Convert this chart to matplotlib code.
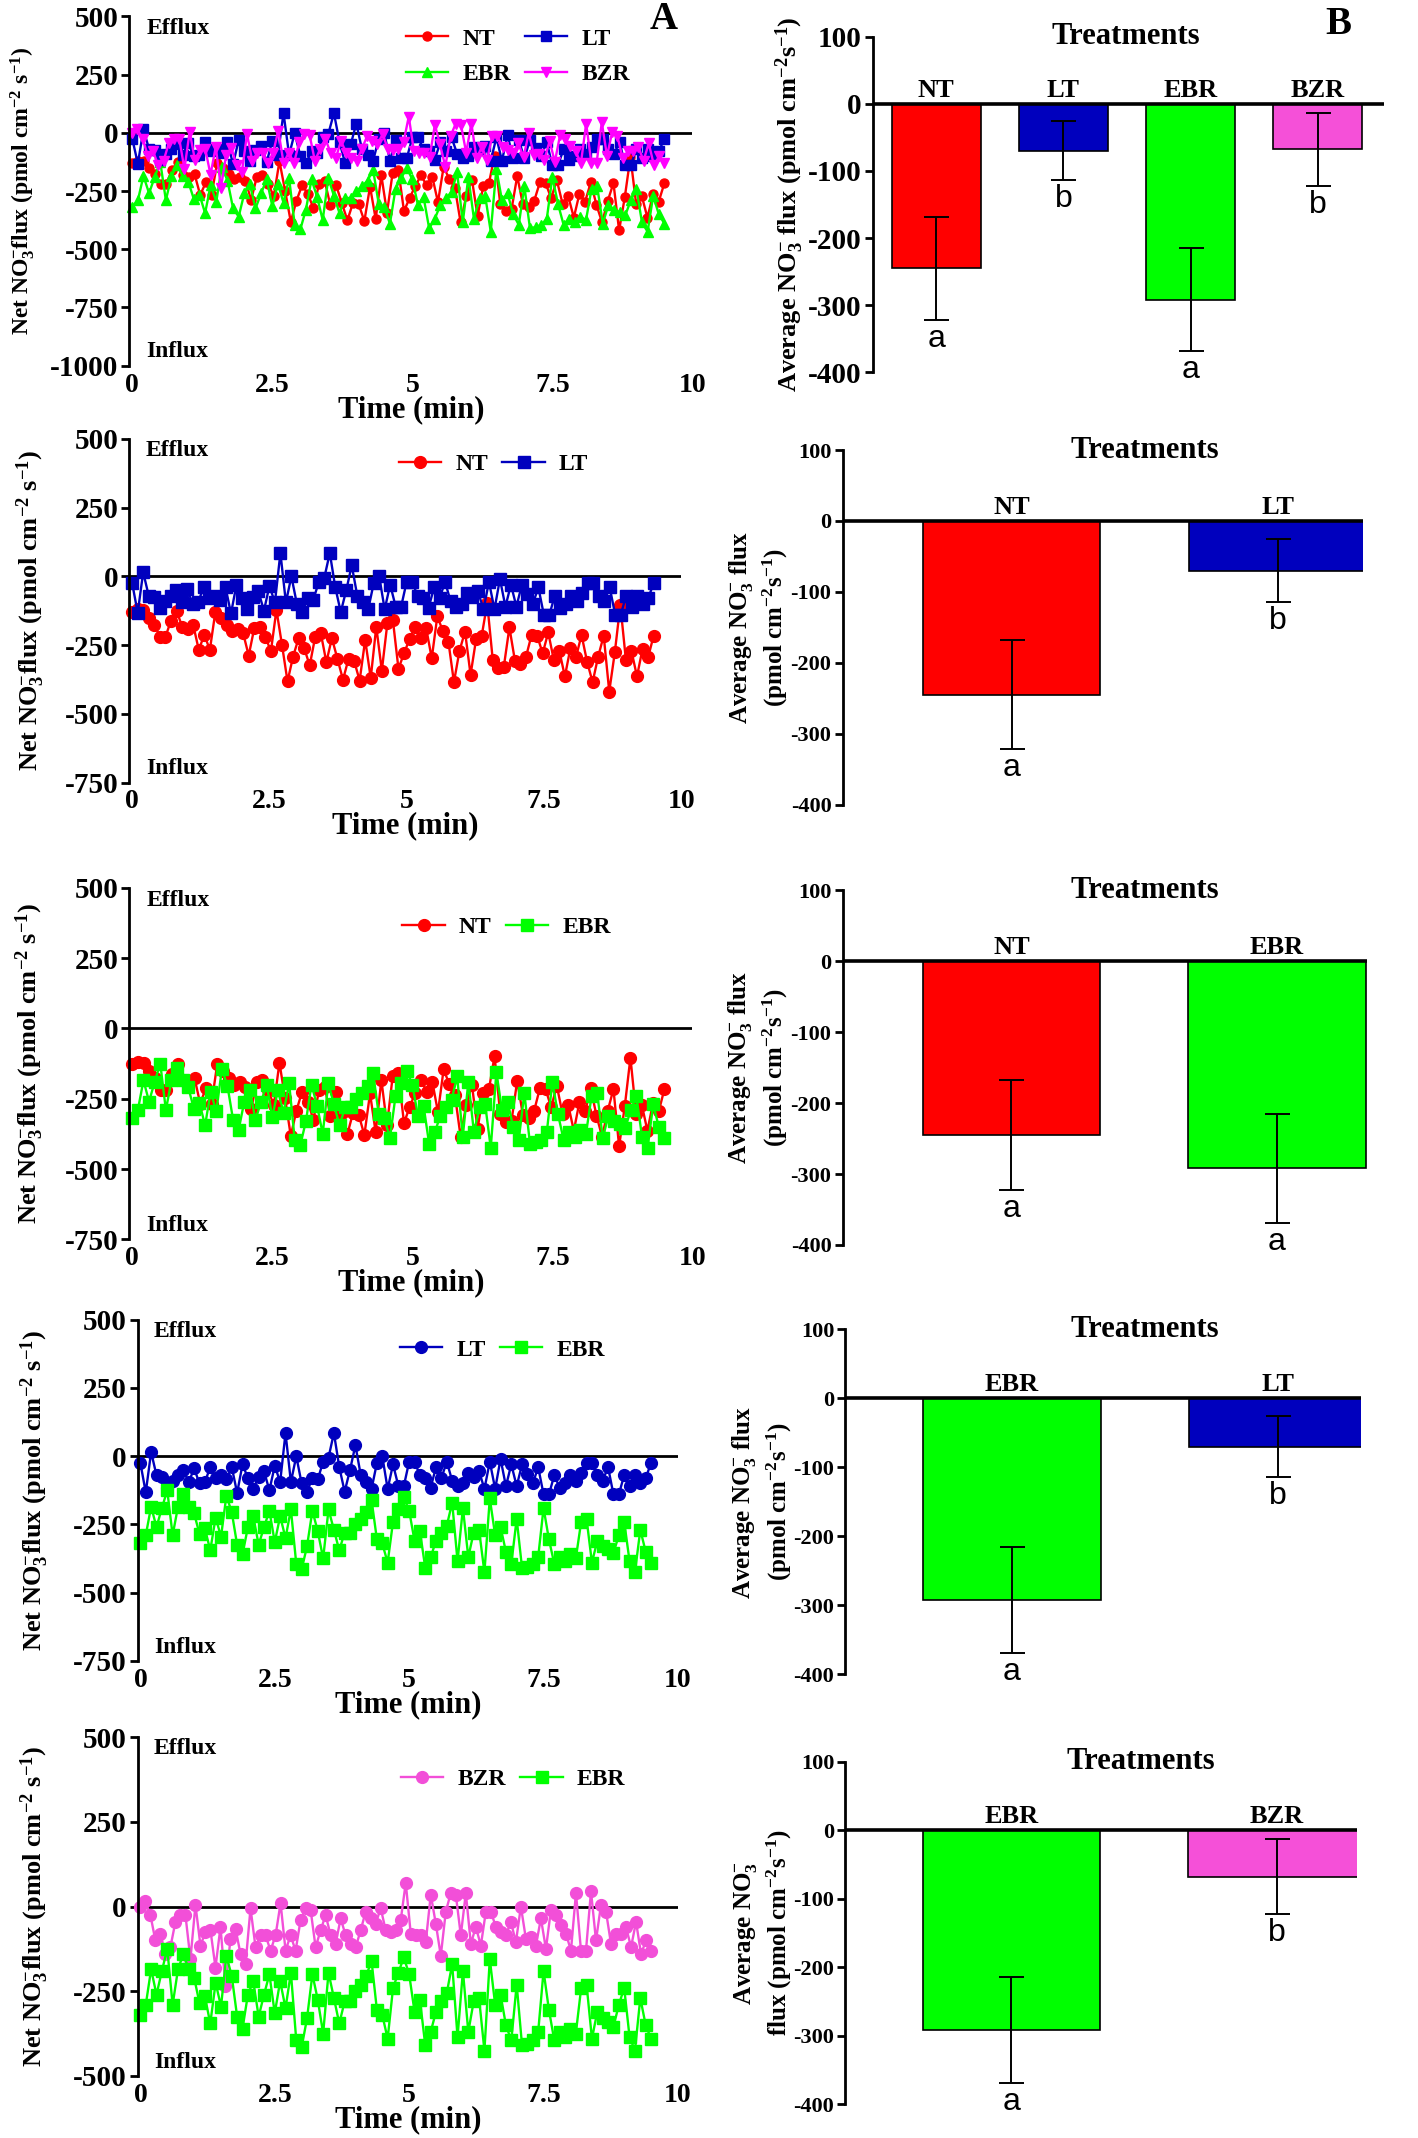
import numpy as np
import matplotlib
matplotlib.use('Agg')
import matplotlib.pyplot as plt

plt.rcParams['font.family'] = ['Liberation Serif', 'DejaVu Serif']
plt.rcParams['font.weight'] = 'bold'
plt.rcParams['axes.labelweight'] = 'bold'
plt.rcParams['axes.unicode_minus'] = False
plt.rcParams['mathtext.fontset'] = 'custom'
plt.rcParams['mathtext.rm'] = 'Liberation Serif:bold'
plt.rcParams['mathtext.it'] = 'Liberation Serif:bold'
plt.rcParams['mathtext.bf'] = 'Liberation Serif:bold'
plt.rcParams['mathtext.default'] = 'rm'

# net NO3- flux, pmol cm-2 s-1, sampled over ~9.5 min
time_end = 9.5
nt_flux = [-128, -120, -122, -150, -177, -219, -219, -161, -125, -183,
           -191, -177, -267, -213, -267, -128, -150, -177, -200, -190,
           -207, -288, -189, -183, -219, -273, -122, -249, -382, -292,
           -225, -261, -324, -219, -207, -312, -225, -300, -376, -300,
           -307, -379, -231, -370, -183, -343, -171, -160, -336, -280,
           -228, -183, -225, -189, -298, -146, -198, -237, -385, -271,
           -201, -358, -228, -217, -98, -304, -334, -328, -186, -307,
           -319, -292, -213, -216, -280, -204, -304, -271, -364, -261,
           -295, -213, -310, -385, -292, -216, -419, -277, -104, -304,
           -271, -364, -264, -295, -216]
lt_flux = [-25, -133, 15, -70, -75, -115, -90, -70, -50, -95,
           -45, -100, -95, -40, -80, -70, -85, -40, -135, -30,
           -80, -120, -75, -55, -125, -35, -95, 85, -95, 0,
           -100, -130, -80, -85, -20, -5, 85, -40, -130, -50,
           40, -70, -95, -120, -25, 0, -120, -30, -110, -110,
           -20, -20, -70, -80, -115, -40, -80, -20, -90, -110,
           -100, -60, -75, -55, -120, -20, -120, -10, -110, -30,
           -110, -30, -65, -100, -40, -140, -140, -70, -115, -100,
           -70, -90, -60, -25, -25, -70, -90, -40, -140, -140,
           -70, -110, -70, -100, -80, -25]
ebr_flux = [-320, -290, -185, -260, -190, -125, -290, -185, -140, -185,
            -210, -285, -265, -345, -225, -295, -145, -205, -325, -360,
            -260, -220, -325, -260, -200, -315, -220, -300, -195, -395,
            -415, -330, -200, -275, -375, -195, -270, -345, -280, -280,
            -250, -230, -205, -160, -305, -320, -390, -240, -195, -150,
            -200, -310, -275, -410, -370, -310, -280, -255, -170, -385,
            -190, -370, -280, -270, -425, -155, -290, -260, -350, -395,
            -230, -410, -405, -395, -370, -190, -305, -395, -370, -385,
            -360, -375, -240, -230, -390, -310, -330, -340, -355, -290,
            -240, -385, -425, -270, -350, -390]
bzr_flux = [0, 15, -25, -100, -80, -140, -120, -45, -25, -25,
            -155, 5, -115, -75, -70, -180, -60, -235, -95, -65,
            -140, -170, -5, -120, -85, -85, -130, -85, 10, -130,
            -85, -130, -40, -5, -10, -120, -70, -25, -85, -110,
            -35, -85, -110, -120, -70, -15, -35, -50, -5, -70,
            -75, -70, -40, 70, -80, -85, -85, -105, 35, -50,
            -145, -15, 40, 35, -85, 40, -110, -60, -115, -15,
            -15, -60, -75, -85, -45, -105, 0, -95, -90, -115,
            -35, -125, -10, -25, -55, -80, -130, 40, -130, -130,
            45, -100, 5, -15, -110, -80, -80, -60, -120, -45,
            -140, -100, -130]
flux = {'NT': nt_flux, 'LT': lt_flux, 'EBR': ebr_flux, 'BZR': bzr_flux}

# average flux per treatment (bars) with error and letters
treatments = ['NT', 'LT', 'EBR', 'BZR']
bar_means = [-245, -70, -292, -68]
bar_errs = [77, 44, 77, 55]
bar_letters = ['a', 'b', 'a', 'b']
bar_colors = {'NT': '#FF0000', 'LT': '#0000BE', 'EBR': '#00FF00', 'BZR': '#F550D8'}

flux_label = r'Net NO$_3^{-}$flux (pmol cm$^{-2}$ s$^{-1}$)'
avg_label_1 = r'Average NO$_3^{-}$ flux (pmol cm$^{-2}$s$^{-1}$)'
avg_label_2 = 'Average NO$_3^{-}$ flux\n(pmol cm$^{-2}$s$^{-1}$)'
avg_label_3 = 'Average NO$_3^{-}$\nflux (pmol cm$^{-2}$s$^{-1}$)'

# rows: (left rect, series, ybottom, legend anchor, ylabel x, ylabel size,
#        right rect, bar names, bar xlim, bar width, ylabel, ylabel x, title x,
#        bar tick size, bar ylabel size)
rows = [
    ([0.0913, 0.829, 0.397, 0.1633],
     [('NT', 'o', '#FF0000'), ('EBR', '^', '#00FF00'),
      ('LT', 's', '#0000C8'), ('BZR', 'v', '#FF00FF')],
     -1000, (0.69, 0.885), -0.165, 17,
     [0.6154, 0.8259, 0.3606, 0.1569], ['NT', 'LT', 'EBR', 'BZR'],
     (-0.5, 3.52), 0.7, avg_label_1, -0.13, 0.496, 21, 19),
    ([0.0913, 0.634, 0.389, 0.1607],
     [('NT', 'o', '#FF0000'), ('LT', 's', '#0000BE')],
     -750, (0.66, 0.925), -0.15, 19,
     [0.5942, 0.6237, 0.3673, 0.1658], ['NT', 'LT'],
     (-0.636, 1.323), 0.667, avg_label_2, -0.1, 0.58, 16, 18),
    ([0.0913, 0.4203, 0.397, 0.1645],
     [('NT', 'o', '#FF0000'), ('EBR', 's', '#00FF00')],
     -750, (0.67, 0.888), -0.148, 19,
     [0.5942, 0.4177, 0.370, 0.1658], ['NT', 'EBR'],
     (-0.636, 1.34), 0.667, avg_label_2, -0.1, 0.577, 16, 18),
    ([0.0971, 0.2232, 0.381, 0.1595],
     [('LT', 'o', '#0000BE'), ('EBR', 's', '#00FF00')],
     -750, (0.675, 0.912), -0.16, 19,
     [0.5962, 0.2168, 0.3635, 0.1614], ['EBR', 'LT'],
     (-0.625, 1.31), 0.667, avg_label_2, -0.1, 0.58, 16, 18),
    ([0.0971, 0.0290, 0.381, 0.1585],
     [('BZR', 'o', '#F24FD8'), ('EBR', 's', '#00FF00')],
     -500, (0.695, 0.876), -0.16, 19,
     [0.5962, 0.0159, 0.3606, 0.1601], ['EBR', 'BZR'],
     (-0.625, 1.3), 0.667, avg_label_3, -0.1, 0.577, 16, 18),
]


def draw_flux(ax, series, ybottom, anchor, ylab_x, ylab_size, ms):
    for name, marker, color in series:
        y = flux[name]
        t = np.linspace(0, time_end, len(y))
        ax.plot(t, y, marker=marker, color=color, mec=color, ms=ms, lw=1.7,
                label=name, clip_on=False)
    ax.axhline(0, color='k', lw=2, zorder=1)
    ax.set_xlim(-0.05, 10)
    ax.set_ylim(ybottom, 500)
    ax.set_yticks(np.arange(ybottom, 501, 250))
    ax.set_xticks([0, 2.5, 5, 7.5, 10])
    ax.set_xticklabels(['0', '2.5', '5', '7.5', '10'])
    for s in ['top', 'right', 'bottom']:
        ax.spines[s].set_visible(False)
    ax.spines['left'].set_linewidth(2)
    ax.tick_params(axis='x', length=0, pad=5, labelsize=20)
    ax.tick_params(axis='y', direction='out', length=6, width=2, labelsize=21, pad=2)
    ax.set_xlabel('Time (min)', fontsize=22, labelpad=-2)
    ax.set_ylabel(flux_label, fontsize=ylab_size)
    ax.yaxis.set_label_coords(ylab_x, 0.5)
    ax.text(0.03, 0.965, 'Efflux', transform=ax.transAxes, fontsize=17, va='center')
    ax.text(0.03, 0.04, 'Influx', transform=ax.transAxes, fontsize=17, va='center')
    ax.legend(loc='center', bbox_to_anchor=anchor, ncol=2, frameon=False,
              fontsize=17, handlelength=1.8, handletextpad=0.6,
              columnspacing=0.6, labelspacing=0.6)


def draw_bars(ax, names, xlim, width, ylab, ylab_x, title_x, tick_size, ylab_size):
    x = np.arange(len(names))
    idx = [treatments.index(n) for n in names]
    means = [bar_means[i] for i in idx]
    errs = [bar_errs[i] for i in idx]
    ax.bar(x, means, width, color=[bar_colors[n] for n in names],
           edgecolor='k', lw=1.2, yerr=errs, capsize=9,
           error_kw=dict(lw=1.4, capthick=1.4, ecolor='k'), zorder=2)
    ax.axhline(0, color='k', lw=2.6, zorder=3)
    for xi, n, m, e, i in zip(x, names, means, errs, idx):
        ax.text(xi, 3, n, ha='center', va='bottom', fontsize=19)
        ax.text(xi, m - e - 6, bar_letters[i], ha='center', va='top',
                fontsize=23, fontweight='normal', family='Liberation Sans')
    ax.text(title_x, 100, 'Treatments', fontsize=22, ha='center', va='center')
    ax.set_xlim(*xlim)
    ax.set_ylim(-400, 100)
    ax.set_yticks(np.arange(-400, 101, 100))
    ax.set_xticks([])
    for s in ['top', 'right', 'bottom']:
        ax.spines[s].set_visible(False)
    ax.spines['left'].set_linewidth(2)
    ax.tick_params(axis='y', direction='out', length=6, width=2,
                   labelsize=tick_size, pad=2)
    ax.set_ylabel(ylab, fontsize=ylab_size, linespacing=1.3)
    ax.yaxis.set_label_coords(ylab_x, 0.5)


fig = plt.figure(figsize=(14.18, 21.38), dpi=100)

for k, (lrect, series, ybot, anchor, lx, lsize, rrect, names, bxlim, bw,
        ylab, rx, tx, tsize, rsize) in enumerate(rows):
    ax = fig.add_axes(lrect)
    draw_flux(ax, series, ybot, anchor, lx, lsize, 6.5 if k == 0 else 8.5)
    bx = fig.add_axes(rrect)
    title_data_x = bxlim[0] + tx * (bxlim[1] - bxlim[0])
    draw_bars(bx, names, bxlim, bw, ylab, rx, title_data_x, tsize, rsize)

fig.text(0.468, 0.991, 'A', fontsize=28, ha='center', va='center')
fig.text(0.944, 0.9885, 'B', fontsize=28, ha='center', va='center')

fig.savefig('out.png', dpi=100)
